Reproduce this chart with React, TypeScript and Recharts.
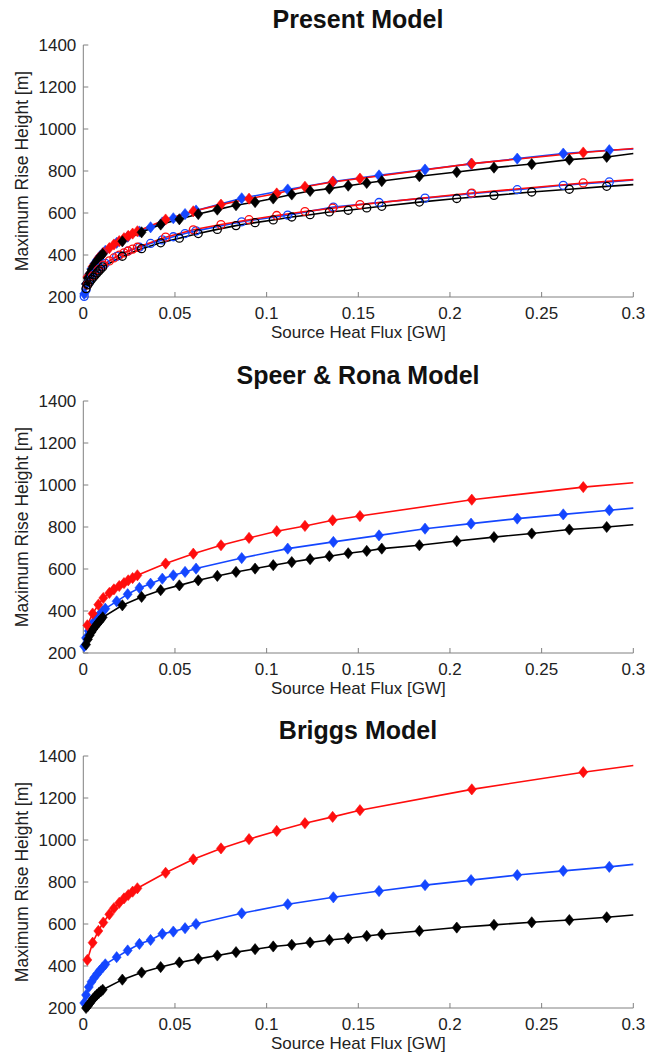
import React from 'react';
import { ComposedChart, Line, Scatter, XAxis, YAxis } from 'recharts';

// x positions (GW) shared by each colour group
const BLACK_X = [
  0.0015, 0.0025, 0.0035, 0.0045, 0.0055, 0.0065, 0.0075, 0.0085, 0.0095, 0.0106,
  0.0213, 0.0318, 0.0422, 0.0524, 0.0627, 0.0731, 0.0833, 0.0937, 0.1036, 0.1137,
  0.1237, 0.1342, 0.1445, 0.1546, 0.1628, 0.1833, 0.2037, 0.224, 0.2446, 0.2651, 0.2855,
];
const RED_X = [
  0.0022, 0.0051, 0.0082, 0.0109, 0.0142, 0.0167, 0.0196, 0.0222, 0.0245, 0.0269, 0.0295,
  0.0449, 0.06, 0.0751, 0.0904, 0.1055, 0.1209, 0.136, 0.1509, 0.2119, 0.2727,
];
const BLUE_X = [
  0.0005, 0.0015, 0.003, 0.0045, 0.006, 0.0075, 0.009, 0.0105, 0.012,
  0.0182, 0.0242, 0.0306, 0.0367, 0.0431, 0.0491, 0.0555, 0.0615,
  0.0864, 0.1115, 0.1364, 0.1613, 0.1864, 0.2115, 0.2367, 0.2618, 0.2869,
];

const X_TICKS = [0, 0.05, 0.1, 0.15, 0.2, 0.25, 0.3];
const Y_TICKS = [200, 400, 600, 800, 1000, 1200, 1400];

// Present Model (m)
const presentRedDiamond = [
  295, 345, 385, 410, 433, 450, 466, 480, 491, 502, 513,
  569, 608, 640, 668, 693, 725, 748, 764, 835, 888,
];
const presentBlueDiamond = [
  215, 262, 305, 335, 358, 377, 394, 408, 420,
  458, 487, 512, 532, 555, 575, 595, 612,
  670, 712, 750, 779, 807, 834, 859, 883, 899,
];
const presentBlackDiamond = [
  262, 290, 312, 330, 346, 360, 372, 383, 394, 405,
  465, 508, 545, 570, 595, 616, 637, 652, 669, 688,
  705, 716, 730, 743, 752, 775, 795, 816, 833, 854, 867,
];
const presentRedCircle = [
  258, 300, 330, 352, 372, 386, 399, 410, 419, 428, 437,
  485, 520, 545, 568, 588, 607, 623, 640, 695, 743,
];
const presentBlueCircle = [
  203, 235, 268, 290, 308, 323, 337, 350, 360,
  393, 418, 437, 455, 472, 487, 502, 515,
  558, 590, 628, 650, 671, 692, 711, 732, 748,
];
const presentBlackCircle = [
  240, 258, 272, 284, 294, 305, 315, 324, 333, 343,
  394, 430, 458, 480, 502, 522, 540, 554, 567, 581,
  592, 605, 613, 624, 632, 652, 669, 684, 700, 713, 727,
];
// curve values at 0.3 GW: red, blue, black (diamonds) then red, blue, black (circles)
const presentEnds = [907, 905, 883, 759, 757, 735];

// Speer & Rona Model (m)
const speerRed = [
  332, 388, 430, 462, 486, 503, 519, 533, 546, 557, 570,
  626, 673, 713, 748, 780, 805, 832, 852, 930, 990,
];
const speerBlue = [
  232, 272, 305, 330, 350, 368, 385, 398, 411,
  446, 480, 510, 530, 554, 570, 586, 602,
  652, 697, 729, 760, 792, 816, 840, 860, 880,
];
const speerBlack = [
  240, 265, 284, 300, 314, 326, 338, 348, 358, 370,
  427, 467, 499, 522, 546, 567, 586, 602, 618, 633,
  647, 661, 675, 686, 697, 713, 733, 752, 769, 788, 800,
];
const speerEnds = [1011, 890, 811];

// Briggs Model (m)
const briggsRed = [
  429, 511, 567, 607, 646, 675, 701, 722, 738, 754, 770,
  844, 908, 960, 1004, 1043, 1080, 1110, 1142, 1241, 1323,
];
const briggsBlue = [
  224, 262, 300, 325, 345, 362, 378, 393, 408,
  442, 474, 505, 524, 553, 564, 580, 600,
  651, 694, 727, 757, 785, 809, 833, 853, 872,
];
const briggsBlack = [
  200, 210, 222, 234, 245, 255, 264, 272, 279, 287,
  335, 369, 395, 417, 434, 450, 466, 480, 493, 501,
  512, 524, 532, 543, 551, 567, 583, 596, 608, 619, 632,
];
const briggsEnds = [1355, 884, 643];

const RED = '#ff0d0d';
const BLUE = '#1446ff';
const BLACK = '#000000';
const FONT = '"Liberation Sans", Arial, Helvetica, sans-serif';

type Pt = { x: number; y: number };
type Series = { name: string; color: string; marker: 'diamond' | 'circle'; points: Pt[]; end: number };

const toPoints = (xs: number[], ys: number[]): Pt[] => xs.map((x, i) => ({ x, y: ys[i] }));

const diamond = (color: string) => (props: any) => {
  const { cx, cy } = props;
  return (
    <polygon
      points={`${cx},${cy - 5.6} ${cx + 4.5},${cy} ${cx},${cy + 5.6} ${cx - 4.5},${cy}`}
      fill={color}
      stroke={color}
      strokeWidth={0.6}
    />
  );
};

const circle = (color: string) => (props: any) => {
  const { cx, cy } = props;
  return <circle cx={cx} cy={cy} r={4} fill="none" stroke={color} strokeWidth={1.3} />;
};

const formatX = (v: number) => (v === 0 ? '0' : String(Number(v.toFixed(2))));

function Panel({ title, plotTop, series }: { title: string; plotTop: number; series: Series[] }) {
  return (
    <>
      <div
        style={{
          position: 'absolute',
          top: plotTop - 38,
          left: 83,
          width: 550,
          textAlign: 'center',
          fontFamily: FONT,
          fontWeight: 'bold',
          fontSize: 25,
          lineHeight: '24px',
          color: '#111',
        }}
      >
        {title}
      </div>
      <div style={{ position: 'absolute', top: plotTop - 10, left: 0 }}>
        <ComposedChart width={657} height={320} margin={{ top: 10, right: 23.7, left: 10, bottom: 0 }}>
          <XAxis
            type="number"
            dataKey="x"
            domain={[0, 0.3]}
            ticks={X_TICKS}
            interval={0}
            tickFormatter={formatX}
            height={58}
            tickSize={-5}
            tickMargin={15}
            axisLine={{ stroke: '#808080' }}
            tickLine={{ stroke: '#808080' }}
            tick={{ fill: '#222', fontSize: 17, fontFamily: FONT }}
            label={{
              value: 'Source Heat Flux [GW]',
              position: 'insideBottom',
              offset: 17,
              style: { fill: '#222', fontSize: 17, fontFamily: FONT },
            }}
          />
          <YAxis
            type="number"
            dataKey="y"
            domain={[200, 1400]}
            ticks={Y_TICKS}
            interval={0}
            width={73.3}
            tickSize={-5}
            tickMargin={12}
            axisLine={{ stroke: '#808080' }}
            tickLine={{ stroke: '#808080' }}
            tick={{ fill: '#222', fontSize: 17, fontFamily: FONT }}
            label={{
              value: 'Maximum Rise Height [m]',
              angle: -90,
              position: 'insideLeft',
              offset: 12,
              style: { fill: '#222', fontSize: 17.5, fontFamily: FONT, textAnchor: 'middle' },
            }}
          />
          {series.map((s) => (
            <Line
              key={`line-${s.name}`}
              data={[...s.points, { x: 0.3, y: s.end }]}
              dataKey="y"
              type="linear"
              stroke={s.color}
              strokeWidth={1.6}
              dot={false}
              activeDot={false}
              isAnimationActive={false}
            />
          ))}
          {series.map((s) => (
            <Scatter
              key={`pts-${s.name}`}
              data={s.points}
              dataKey="y"
              fill={s.color}
              shape={s.marker === 'diamond' ? diamond(s.color) : circle(s.color)}
              isAnimationActive={false}
            />
          ))}
        </ComposedChart>
      </div>
    </>
  );
}

export default function App() {
  const present: Series[] = [
    { name: 'blue-d', color: BLUE, marker: 'diamond', points: toPoints(BLUE_X, presentBlueDiamond), end: presentEnds[1] },
    { name: 'red-d', color: RED, marker: 'diamond', points: toPoints(RED_X, presentRedDiamond), end: presentEnds[0] },
    { name: 'black-d', color: BLACK, marker: 'diamond', points: toPoints(BLACK_X, presentBlackDiamond), end: presentEnds[2] },
    { name: 'blue-o', color: BLUE, marker: 'circle', points: toPoints(BLUE_X, presentBlueCircle), end: presentEnds[4] },
    { name: 'red-o', color: RED, marker: 'circle', points: toPoints(RED_X, presentRedCircle), end: presentEnds[3] },
    { name: 'black-o', color: BLACK, marker: 'circle', points: toPoints(BLACK_X, presentBlackCircle), end: presentEnds[5] },
  ];
  const speer: Series[] = [
    { name: 'blue', color: BLUE, marker: 'diamond', points: toPoints(BLUE_X, speerBlue), end: speerEnds[1] },
    { name: 'red', color: RED, marker: 'diamond', points: toPoints(RED_X, speerRed), end: speerEnds[0] },
    { name: 'black', color: BLACK, marker: 'diamond', points: toPoints(BLACK_X, speerBlack), end: speerEnds[2] },
  ];
  const briggs: Series[] = [
    { name: 'blue', color: BLUE, marker: 'diamond', points: toPoints(BLUE_X, briggsBlue), end: briggsEnds[1] },
    { name: 'red', color: RED, marker: 'diamond', points: toPoints(RED_X, briggsRed), end: briggsEnds[0] },
    { name: 'black', color: BLACK, marker: 'diamond', points: toPoints(BLACK_X, briggsBlack), end: briggsEnds[2] },
  ];

  return (
    <div style={{ position: 'absolute', left: 0, top: 0, width: 657, height: 1055, background: '#fff' }}>
      <Panel title="Present Model" plotTop={45} series={present} />
      <Panel title="Speer & Rona Model" plotTop={400.7} series={speer} />
      <Panel title="Briggs Model" plotTop={756} series={briggs} />
    </div>
  );
}
